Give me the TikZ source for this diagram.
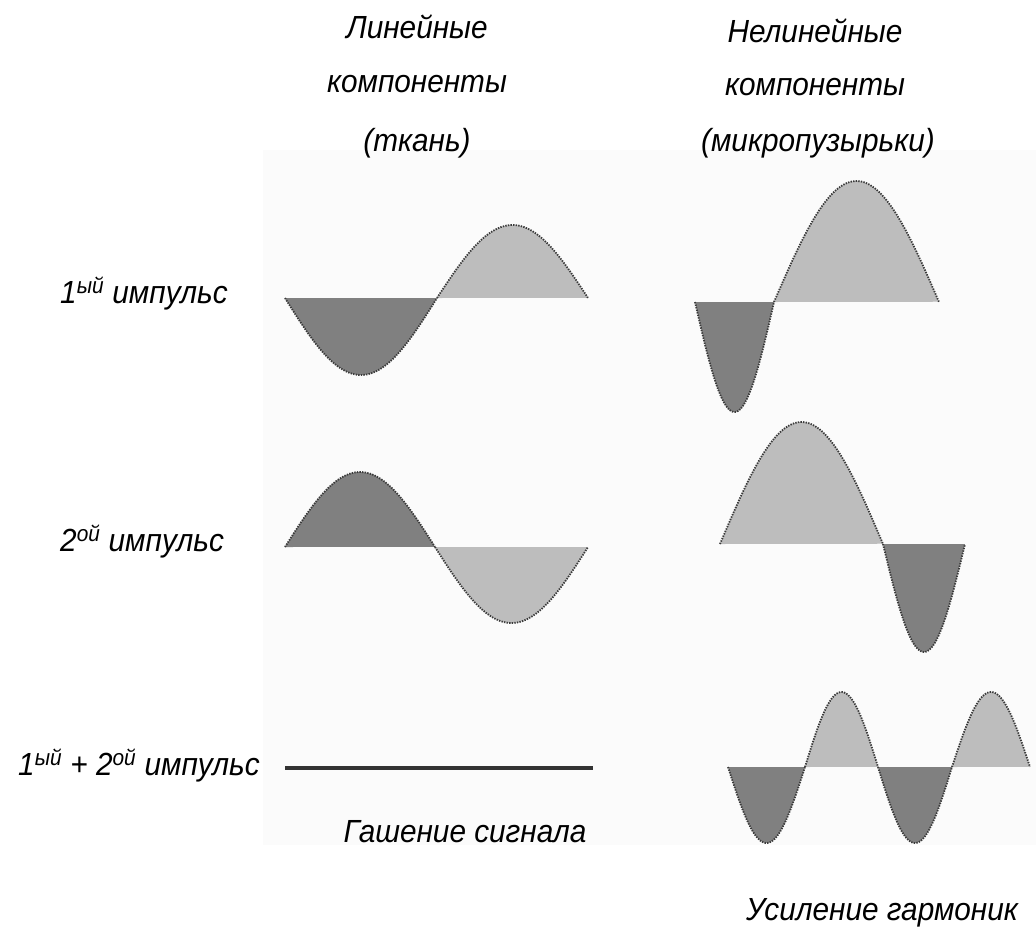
\documentclass[tikz,border=0pt]{standalone}
\usepackage{fontspec}
\setmainfont{Liberation Sans}[FakeStretch=0.93]
\definecolor{darkfill}{HTML}{808080}
\definecolor{lightfill}{HTML}{BDBDBD}
\definecolor{outlinec}{HTML}{3A3A3A}
\definecolor{bgpanel}{HTML}{FBFBFB}
\newcommand\wavelobe[5]{%
  \fill[#5] plot[domain=0:1,samples=60] ({#1+(#2-#1)*\x},{#3+#4*sin(180*\x)}) -- cycle;
  \draw[outl] plot[domain=0:1,samples=60] ({#1+(#2-#1)*\x},{#3+#4*sin(180*\x)});}
\begin{document}
\begin{tikzpicture}[x=1pt,y=-1pt,
  lbl/.style={inner sep=0pt,anchor=base,font=\fontsize{32}{38}\selectfont\itshape},
  outl/.style={draw=outlinec,line width=1.8pt,dash pattern=on 1.4pt off 1.2pt}]
\useasboundingbox (0,0) rectangle (1036,940);
\fill[bgpanel] (263,150) rectangle (1036,845);
% titles
\node[lbl] (t1a) at (417,38) {Линейные};
\node[lbl] (t1b) at (417,92) {компоненты};
\node[lbl] (t1c) at (417,151) {(ткань)};
\node[lbl] (t2a) at (815,42) {Нелинейные};
\node[lbl] (t2b) at (815,95) {компоненты};
\node[lbl] (t2c) at (818,151) {(микропузырьки)};
% row labels
\node[lbl,anchor=base west] (r1) at (60,303) {1\textsuperscript{ый} импульс};
\node[lbl,anchor=base west] (r2) at (60,551) {2\textsuperscript{ой} импульс};
\node[lbl,anchor=base west] (r3) at (18,775) {1\textsuperscript{ый} + 2\textsuperscript{ой} импульс};
\node[lbl] (c1) at (465,842) {Гашение сигнала};
\node[lbl] (c2) at (882,920) {Усиление гармоник};
% left waves
\wavelobe{285}{437}{298}{77}{darkfill}
\wavelobe{437}{588}{298}{-73}{lightfill}
\wavelobe{285}{435}{547}{-75}{darkfill}
\wavelobe{435}{588}{547}{76}{lightfill}
\draw[line width=3.5pt,draw=black!80] (285,768) -- (593,768);
% right waves
\wavelobe{695}{774}{302}{110}{darkfill}
\wavelobe{774}{939}{302}{-121}{lightfill}
\wavelobe{720}{883}{544}{-122}{lightfill}
\wavelobe{883}{965}{544}{108}{darkfill}
\wavelobe{728}{805}{767}{76}{darkfill}
\wavelobe{805}{878}{767}{-75}{lightfill}
\wavelobe{878}{952}{767}{76}{darkfill}
\wavelobe{952}{1030}{767}{-75}{lightfill}
\end{tikzpicture}
\end{document}
